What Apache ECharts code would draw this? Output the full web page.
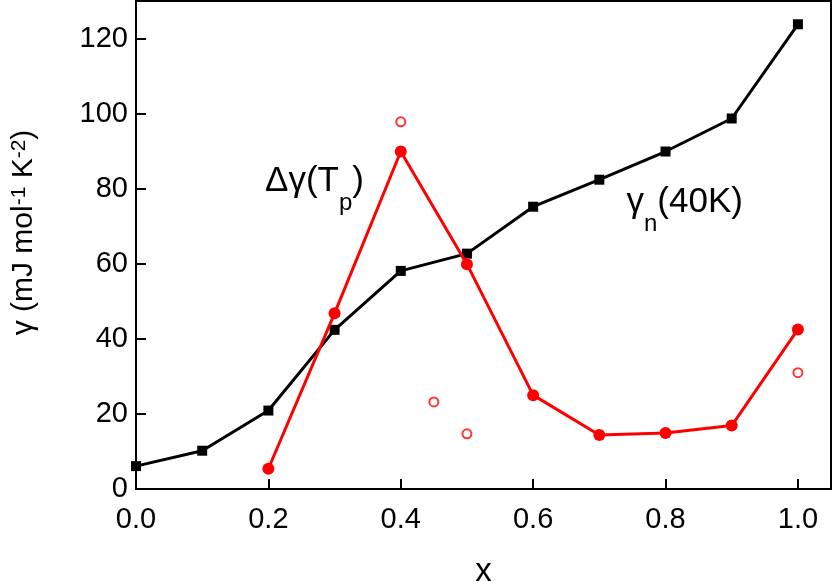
<!DOCTYPE html>
<html>
<head>
<meta charset="utf-8">
<script src="https://cdn.jsdelivr.net/npm/echarts@6/dist/echarts.min.js"></script>
<style>
  html, body { margin: 0; padding: 0; background: #fff; }
  #chart { width: 832px; height: 581px; }
</style>
</head>
<body>
<div id="chart"></div>
<script>
// gamma_n(40K), black squares
const xGammaN = [0.0, 0.1, 0.2, 0.3, 0.4, 0.5, 0.6, 0.7, 0.8, 0.9, 1.0]
const yGammaN = [6.1, 10.2, 20.9, 42.4, 58.1, 62.7, 75.2, 82.4, 89.9, 98.7, 123.8]

// delta gamma(Tp), red filled circles
const xDelta = [0.2, 0.3, 0.4, 0.5, 0.6, 0.7, 0.8, 0.9, 1.0]
const yDelta = [5.4, 46.8, 89.9, 59.9, 25.0, 14.4, 14.9, 16.9, 42.5]

// open red circles
const xOpen = [0.4, 0.45, 0.5, 1.0]
const yOpen = [97.8, 23.2, 14.7, 31.0]

// annotation anchors in data coordinates [x, y] (left edge, top of text box)
const labelDelta = [0.195, 86.5]
const labelGammaN = [0.741, 81.0]

const FONT = '"Liberation Sans", Arial, sans-serif'

const chart = echarts.init(document.getElementById('chart'))

const pairs = (xs, ys) => xs.map((x, i) => [x, ys[i]])

const option = {
  animation: false,
  backgroundColor: '#fff',
  grid: {
    left: 136, right: 1, top: 1, bottom: 92,
    outerBoundsMode: 'none',
    containLabel: false,
    show: true, borderColor: '#000', borderWidth: 2
  },
  xAxis: {
    type: 'value',
    min: 0, max: 1.05, interval: 0.2,
    name: 'x',
    nameLocation: 'middle',
    nameGap: 66,
    nameTextStyle: { fontFamily: FONT, fontSize: 33, color: '#000' },
    axisLine: { show: true, onZero: false, lineStyle: { color: '#000', width: 2 } },
    axisTick: { show: true, inside: true, length: 10, lineStyle: { color: '#000', width: 2 } },
    axisLabel: {
      showMaxLabel: false,
      margin: 16,
      fontFamily: FONT, fontSize: 29, color: '#000',
      formatter: v => v.toFixed(1)
    },
    splitLine: { show: false }
  },
  yAxis: {
    type: 'value',
    min: 0, max: 130, interval: 20,
    name: '{n|γ (mJ mol}{s|-1}{n| K}{s|-2}{n|)}',
    nameLocation: 'middle',
    nameRotate: 90,
    nameGap: 85,
    nameTextStyle: {
      fontFamily: FONT, color: '#000',
      padding: [0, 0, 0, 25],
      rich: {
        n: { fontFamily: FONT, fontSize: 30, lineHeight: 42, verticalAlign: 'top', color: '#000' },
        s: { fontFamily: FONT, fontSize: 21, lineHeight: 20, verticalAlign: 'top', color: '#000' }
      }
    },
    axisLine: { show: true, onZero: false, lineStyle: { color: '#000', width: 2 } },
    axisTick: { show: true, inside: true, length: 10, lineStyle: { color: '#000', width: 2 } },
    axisLabel: {
      showMaxLabel: false,
      margin: 8,
      fontFamily: FONT, fontSize: 29, color: '#000'
    },
    splitLine: { show: false }
  },
  series: [
    {
      name: 'gamma_n',
      type: 'line',
      data: pairs(xGammaN, yGammaN),
      symbol: 'rect',
      symbolSize: 10,
      lineStyle: { color: '#000', width: 3 },
      itemStyle: { color: '#000' },
      z: 2
    },
    {
      name: 'delta',
      type: 'line',
      data: pairs(xDelta, yDelta),
      symbol: 'circle',
      symbolSize: 12,
      lineStyle: { color: '#ff0000', width: 3 },
      itemStyle: { color: '#ff0000' },
      z: 3
    },
    {
      name: 'open',
      type: 'scatter',
      data: pairs(xOpen, yOpen),
      symbol: 'circle',
      symbolSize: 9,
      itemStyle: { color: '#fff', borderColor: '#ff0000', borderWidth: 2 },
      z: 3
    }
  ]
}

chart.setOption(option)

// place the two curve labels from data coordinates
const pDelta = chart.convertToPixel({ gridIndex: 0 }, labelDelta)
const pGammaN = chart.convertToPixel({ gridIndex: 0 }, labelGammaN)

const annRich = {
  a: { fontFamily: FONT, fontSize: 35, lineHeight: 40, verticalAlign: 'top', fill: '#000' },
  b: { fontFamily: FONT, fontSize: 24, lineHeight: 78, verticalAlign: 'middle', fill: '#000' }
}

chart.setOption({
  graphic: [
    {
      type: 'text',
      left: pDelta[0], top: pDelta[1],
      style: { text: '{a|Δγ(T}{b|p}{a|)}', rich: annRich },
      z: 10
    },
    {
      type: 'text',
      left: pGammaN[0], top: pGammaN[1],
      style: { text: '{a|γ}{b|n}{a|(40K)}', rich: annRich },
      z: 10
    }
  ]
})
</script>
</body>
</html>
